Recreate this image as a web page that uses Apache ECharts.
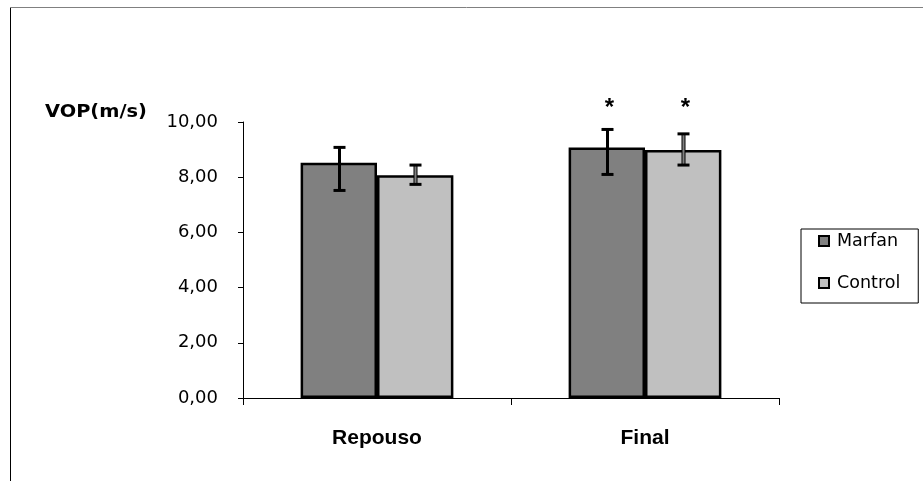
<!DOCTYPE html>
<html>
<head>
<meta charset="utf-8">
<script src="https://cdn.jsdelivr.net/npm/echarts@6/dist/echarts.min.js"></script>
<style>html,body{margin:0;padding:0;background:#fff}#c{width:923px;height:481px}</style>
</head>
<body>
<div id="c"></div>
<script>
var categories = ['Repouso', 'Final'];
var seriesNames = ['Marfan', 'Control'];
var marfanValues = [8.52, 9.08];
var controlValues = [8.07, 8.99];
var marfanErrPlus = [0.56, 0.65];
var marfanErrMinus = [1.0, 0.98];
var controlErrPlus = [0.37, 0.58];
var controlErrMinus = [0.33, 0.55];
var marfanSig = [false, true];
var controlSig = [false, true];
var yTicks = [0, 2, 4, 6, 8, 10];

var FONT = '"Liberation Sans", Arial, sans-serif';
var WFONT = '"DejaVu Sans", Verdana, sans-serif';
var CAT_GAP = 0.43;

function errSeries(idx, vals, plus, minus, sig) {
  var data = categories.map(function (c, i) { return [i, vals[i], plus[i], minus[i], sig[i] ? 1 : 0]; });
  return {
    type: 'custom',
    name: seriesNames[idx] + ' err',
    z: 10,
    clip: false,
    data: data,
    encode: { x: 0, y: 1 },
    renderItem: function (params, api) {
      var ci = api.value(0), v = api.value(1), ep = api.value(2), em = api.value(3), s = api.value(4);
      var catW = api.size([1, 0])[0];
      var barW = catW * (1 - CAT_GAP) / 2;
      var off = (idx === 0 ? -0.5 : 0.5) * barW;
      var top = api.coord([ci, v + ep]);
      var bot = api.coord([ci, v - em]);
      var x = Math.round(top[0] + off) + 0.5;
      var cap = 6;
      var children = [
        { type: 'line', shape: { x1: x, y1: top[1], x2: x, y2: bot[1] }, style: { stroke: '#000', lineWidth: idx === 0 ? 3 : 4 } }
      ];
      if (idx === 1) {
        children.push({ type: 'line', shape: { x1: x, y1: top[1], x2: x, y2: bot[1] }, style: { stroke: '#808080', lineWidth: 2 } });
      }
      children.push(
        { type: 'line', shape: { x1: x - cap, y1: top[1], x2: x + cap, y2: top[1] }, style: { stroke: '#000', lineWidth: 3 } },
        { type: 'line', shape: { x1: x - cap, y1: bot[1], x2: x + cap, y2: bot[1] }, style: { stroke: '#000', lineWidth: 3 } }
      );
      if (s) {
        var p = api.coord([ci, 10.72]);
        children.push({ type: 'text', style: { text: '*', x: x + 2, y: p[1] + 6, align: 'center', verticalAlign: 'middle', font: 'bold 24px ' + FONT, fill: '#000' } });
      }
      return { type: 'group', children: children };
    }
  };
}

var chart = echarts.init(document.getElementById('c'));
chart.setOption({
  animation: false,
  backgroundColor: '#fff',
  grid: { left: 243, right: 144, top: 122, bottom: 83 },
  legend: {
    orient: 'vertical',
    left: 801, top: 229,
    data: seriesNames,
    icon: 'rect',
    itemWidth: 10, itemHeight: 10,
    itemGap: 24,
    padding: [3, 18, 11, 17],
    borderColor: '#000', borderWidth: 1,
    textStyle: { fontFamily: WFONT, fontSize: 17.5, color: '#000', padding: [0, 0, 0, 3] },
    itemStyle: { borderColor: '#000', borderWidth: 2 }
  },
  xAxis: {
    type: 'category',
    data: categories,
    axisLine: { lineStyle: { color: '#000', width: 1 } },
    axisTick: { show: true, alignWithLabel: false, length: 7, lineStyle: { color: '#000' } },
    axisLabel: { fontFamily: FONT, fontSize: 21, fontWeight: 'bold', color: '#000', margin: 30 },
    splitLine: { show: false }
  },
  yAxis: {
    type: 'value',
    min: 0, max: 10, interval: 2,
    axisLine: { show: true, lineStyle: { color: '#000', width: 1 } },
    axisTick: { show: true, length: 5, inside: false, lineStyle: { color: '#000' } },
    axisLabel: {
      fontFamily: WFONT, fontSize: 18, color: '#000', margin: 25,
      formatter: function (v) { return v.toFixed(2).replace('.', ','); }
    },
    splitLine: { show: false }
  },
  graphic: [
    { type: 'line', shape: { x1: 10.5, y1: 7, x2: 10.5, y2: 481 }, style: { stroke: '#000', lineWidth: 1 } },
    { type: 'line', shape: { x1: 10, y1: 7.5, x2: 923, y2: 7.5 }, style: { stroke: '#808080', lineWidth: 1 } },
    { type: 'text', x: 45, y: 121, scaleX: 1.14, style: { text: 'VOP(m/s)', font: 'bold 17px ' + WFONT, fill: '#000', verticalAlign: 'bottom' } }
  ],
  series: [
    {
      type: 'bar', name: seriesNames[0], data: marfanValues,
      barGap: '0%', barCategoryGap: (CAT_GAP * 100) + '%',
      itemStyle: { color: '#808080', borderColor: '#000', borderWidth: 2.5 }
    },
    {
      type: 'bar', name: seriesNames[1], data: controlValues,
      barGap: '0%', barCategoryGap: (CAT_GAP * 100) + '%',
      itemStyle: { color: '#C0C0C0', borderColor: '#000', borderWidth: 2.5 }
    },
    errSeries(0, marfanValues, marfanErrPlus, marfanErrMinus, marfanSig),
    errSeries(1, controlValues, controlErrPlus, controlErrMinus, controlSig)
  ]
});
</script>
</body>
</html>
